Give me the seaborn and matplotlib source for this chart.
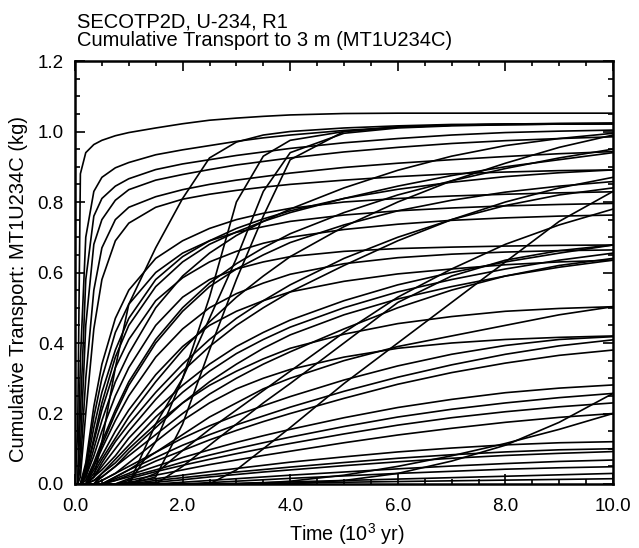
import matplotlib
matplotlib.use("Agg")
import matplotlib.pyplot as plt
from matplotlib.ticker import MultipleLocator, FormatStrFormatter
import seaborn as sns
import pandas as pd

# ---- data ----
time_kyr = [0, .05, .1, .2, .35, .5, .75, 1, 1.5, 2, 2.5, 3, 3.5, 4, 5, 6, 7, 8, 9, 10]

A   = [0, .15, .88, .94, .963, .975, .988, .997, 1.01, 1.022, 1.032, 1.038, 1.043, 1.047, 1.051, 1.052, 1.052, 1.052, 1.052, 1.052]
F1  = [0, 0, .35, .7, .83, .87, .897, .912, .934, .948, .96, .972, .982, .99, 1.003, 1.012, 1.018, 1.021, 1.023, 1.024]
F2  = [0, 0, .2, .58, .76, .81, .845, .866, .892, .908, .92, .932, .942, .952, .968, .98, .99, .997, 1.001, 1.004]
F3  = [0, 0, .1, .45, .68, .75, .805, .835, .862, .878, .892, .905, .915, .925, .942, .955, .966, .974, .98, .985]
F4  = [0, 0, .05, .3, .55, .67, .75, .785, .815, .835, .85, .862, .872, .882, .898, .91, .92, .929, .937, .943]
F5  = [0, 0, .02, .2, .44, .58, .69, .74, .785, .808, .822, .833, .842, .85, .862, .872, .88, .885, .889, .891]

C1  = [0, 0, 0, .06, .22, .34, .47, .55, .64, .69, .725, .75, .768, .782, .8, .81, .817, .822, .826, .829]
C2  = [0, 0, 0, .05, .19, .3, .43, .51, .6, .655, .69, .714, .73, .745, .763, .775, .783, .789, .793, .796]
C3  = [0, 0, 0, .04, .16, .26, .38, .47, .58, .645, .69, .725, .752, .775, .81, .836, .856, .872, .883, .891]
C4  = [0, 0, 0, .03, .12, .21, .33, .41, .52, .585, .63, .66, .683, .7, .722, .737, .748, .755, .76, .763]
C5  = [0, 0, 0, .02, .1, .18, .29, .37, .5, .59, .655, .705, .745, .78, .84, .89, .93, .96, .98, .995]
C6  = [0, 0, 0, .02, .08, .15, .25, .33, .45, .53, .58, .61, .63, .645, .66, .668, .672, .675, .677, .678]
C7  = [0, 0, 0, .01, .06, .12, .21, .29, .41, .5, .57, .625, .67, .71, .77, .82, .86, .895, .925, .95]
C8  = [0, 0, 0, .01, .05, .1, .18, .25, .36, .44, .5, .54, .57, .595, .625, .642, .652, .658, .662, .664]
C9  = [0, 0, 0, 0, .04, .08, .15, .21, .31, .39, .45, .49, .52, .545, .575, .596, .61, .622, .63, .635]
C10 = [0, 0, 0, 0, .03, .07, .13, .19, .29, .38, .46, .53, .59, .645, .73, .8, .86, .91, .955, .99]
C11 = [0, 0, 0, 0, .02, .05, .1, .15, .24, .32, .39, .45, .5, .545, .62, .69, .75, .8, .84, .87]
C12 = [0, 0, 0, 0, .02, .04, .08, .13, .21, .28, .34, .39, .43, .465, .52, .565, .6, .63, .655, .678]
C13 = [0, 0, 0, 0, .01, .03, .06, .1, .17, .23, .28, .32, .355, .385, .425, .455, .475, .49, .498, .503]
C14 = [0, 0, 0, 0, .01, .02, .05, .08, .14, .2, .255, .3, .34, .375, .44, .5, .55, .59, .62, .64]
C15 = [0, 0, 0, .03, .13, .23, .36, .45, .56, .63, .68, .715, .745, .77, .81, .845, .875, .9, .92, .94]
C16 = [0, 0, 0, 0, .05, .11, .2, .28, .4, .49, .56, .61, .65, .685, .735, .775, .805, .828, .845, .858]
C17 = [0, 0, 0, 0, .02, .06, .12, .17, .26, .34, .41, .47, .52, .565, .64, .7, .75, .79, .82, .84]
C18 = [0, 0, 0, 0, 0, .03, .07, .11, .19, .26, .32, .37, .41, .445, .5, .545, .58, .61, .635, .655]

M1  = [0, 0, 0, 0, 0, .02, .05, .09, .16, .23, .29, .34, .385, .423, .48, .525, .56, .59, .615, .635]
M2  = [0, 0, 0, 0, 0, .01, .03, .06, .12, .18, .23, .27, .3, .325, .36, .385, .4, .41, .416, .42]
M3  = [0, 0, 0, 0, 0, 0, .02, .04, .09, .14, .19, .23, .27, .3, .35, .39, .42, .45, .48, .503]

D1  = [0, 0, 0, 0, 0, .01, .03, .05, .09, .13, .165, .195, .222, .248, .295, .335, .368, .393, .41, .418]
D2  = [0, 0, 0, 0, 0, 0, .02, .04, .075, .11, .14, .168, .193, .218, .263, .303, .338, .368, .392, .409]
D3  = [0, 0, 0, 0, 0, 0, .015, .03, .065, .095, .125, .152, .177, .2, .243, .283, .316, .343, .365, .38]
D4  = [0, 0, 0, 0, 0, 0, .01, .025, .05, .075, .097, .118, .137, .155, .188, .217, .24, .259, .272, .281]
D5  = [0, 0, 0, 0, 0, 0, .01, .02, .04, .062, .082, .1, .117, .133, .163, .19, .212, .23, .245, .257]
D6  = [0, 0, 0, 0, 0, 0, 0, .015, .035, .053, .07, .086, .101, .115, .142, .167, .188, .205, .219, .23]
D7  = [0, 0, 0, 0, 0, 0, 0, .01, .025, .04, .055, .068, .081, .093, .117, .139, .158, .175, .189, .2]
D8  = [0, 0, 0, 0, 0, 0, 0, .005, .015, .025, .035, .044, .053, .062, .077, .091, .102, .111, .117, .12]
D9  = [0, 0, 0, 0, 0, 0, 0, 0, .01, .018, .026, .034, .041, .048, .061, .073, .083, .091, .097, .1]
D10 = [0, 0, 0, 0, 0, 0, 0, 0, .005, .012, .02, .027, .034, .04, .052, .063, .073, .081, .087, .092]
D11 = [0, 0, 0, 0, 0, 0, 0, 0, 0, .005, .01, .015, .02, .025, .034, .043, .051, .058, .064, .068]
D12 = [0, 0, 0, 0, 0, 0, 0, 0, 0, 0, .004, .008, .012, .016, .023, .03, .036, .042, .046, .049]
D13 = [0, 0, 0, 0, 0, 0, 0, 0, 0, 0, 0, .002, .004, .006, .01, .014, .018, .022, .026, .03]
D14 = [0, 0, 0, 0, 0, 0, 0, 0, 0, 0, 0, 0, .002, .003, .005, .007, .009, .011, .013, .015]

S1  = [0, 0, 0, 0, .02, .12, .33, .51, .67, .81, .925, .97, .99, 1.0, 1.01, 1.016, 1.02, 1.021, 1.022, 1.023]
S2  = [0, 0, 0, 0, 0, 0, 0, 0, .12, .3, .53, .8, .93, .975, 1.0, 1.012, 1.018, 1.02, 1.021, 1.022]
S3  = [0, 0, 0, 0, 0, 0, 0, 0, .02, .17, .38, .58, .76, .92, 1.0, 1.013, 1.018, 1.02, 1.021, 1.022]
S4  = [0, 0, 0, 0, 0, 0, 0, 0, .17, .3, .47, .64, .83, .94, .995, 1.01, 1.016, 1.019, 1.021, 1.022]

L1  = [0, 0, 0, 0, 0, 0, 0, 0, 0, 0, 0, .04, .1, .16, .285, .4, .515, .63, .745, .83]
L2  = [0, 0, 0, 0, 0, 0, 0, 0, .03, .095, .155, .21, .265, .32, .43, .53, .61, .68, .735, .78]
L3  = [0, 0, 0, 0, 0, 0, 0, 0, 0, .05, .11, .17, .23, .285, .4, .515, .59, .635, .662, .678]

E1  = [0, 0, 0, 0, 0, 0, 0, 0, 0, 0, 0, 0, .003, .008, .025, .05, .08, .115, .155, .2]
E2  = [0, 0, 0, 0, 0, 0, 0, 0, 0, 0, 0, 0, 0, 0, .01, .03, .065, .11, .175, .257]

curves = {
    "A": A, "F1": F1, "F2": F2, "F3": F3, "F4": F4, "F5": F5,
    "C1": C1, "C2": C2, "C3": C3, "C4": C4, "C5": C5, "C6": C6, "C7": C7, "C8": C8,
    "C9": C9, "C10": C10, "C11": C11, "C12": C12, "C13": C13, "C14": C14,
    "C15": C15, "C16": C16, "C17": C17, "C18": C18,
    "M1": M1, "M2": M2, "M3": M3,
    "D1": D1, "D2": D2, "D3": D3, "D4": D4, "D5": D5, "D6": D6, "D7": D7,
    "D8": D8, "D9": D9, "D10": D10, "D11": D11, "D12": D12, "D13": D13, "D14": D14,
    "S1": S1, "S2": S2, "S3": S3, "S4": S4,
    "L1": L1, "L2": L2, "L3": L3, "E1": E1, "E2": E2,
}

x_ticks = [0, 2, 4, 6, 8, 10]
y_ticks = [0.0, 0.2, 0.4, 0.6, 0.8, 1.0, 1.2]
title_lines = ["SECOTP2D, U-234, R1", "Cumulative Transport to 3 m (MT1U234C)"]
x_label = "Time (10$^3$ yr)"
y_label = "Cumulative Transport: MT1U234C (kg)"

rows = []
for name, vals in curves.items():
    for t, v in zip(time_kyr, vals):
        rows.append({"curve": name, "time": t, "value": v})
df = pd.DataFrame(rows)

# ---- plot ----
sns.set_theme(style="ticks")
plt.rcParams["font.family"] = ["Liberation Sans", "DejaVu Sans"]
plt.rcParams["mathtext.fontset"] = "custom"
plt.rcParams["mathtext.rm"] = "Liberation Sans"
plt.rcParams["text.color"] = "black"
plt.rcParams["axes.labelcolor"] = "black"

fig = plt.figure(figsize=(6.39, 5.48), dpi=100)
ax = fig.add_axes([75 / 639, 1 - 484 / 548, 538 / 639, 423 / 548])

sns.lineplot(data=df, x="time", y="value", units="curve", estimator=None,
             color="black", linewidth=1.2, legend=False, ax=ax)

ax.set_xlim(0, 10)
ax.set_ylim(0, 1.2)
ax.set_xticks(x_ticks)
ax.set_yticks(y_ticks)
ax.xaxis.set_major_formatter(FormatStrFormatter("%.1f"))
ax.yaxis.set_major_formatter(FormatStrFormatter("%.1f"))
ax.xaxis.set_minor_locator(MultipleLocator(0.5))
ax.yaxis.set_minor_locator(MultipleLocator(0.05))
ax.tick_params(which="both", direction="in", top=True, right=True,
               width=1.2, color="black", labelsize=13.5, labelcolor="black")
ax.tick_params(which="major", length=7)
ax.tick_params(axis="x", which="major", pad=10)
ax.tick_params(axis="y", which="major", pad=8)
ax.tick_params(which="minor", length=3.5)
for sp in ax.spines.values():
    sp.set_linewidth(1.8)
    sp.set_color("black")

ax.set_xlabel(x_label, fontsize=14.2, color="black")
ax.set_ylabel(y_label, fontsize=14.5, color="black")
ax.xaxis.set_label_coords(0.505, -0.088)
ax.yaxis.set_label_coords(-0.087, 0.46)

fig.text(77 / 639, 1 - 27 / 548, title_lines[0], fontsize=14.5, va="baseline", ha="left", color="black")
fig.text(77 / 639, 1 - 46.5 / 548, title_lines[1], fontsize=14.5, va="baseline", ha="left", color="black")

fig.savefig("out.png", dpi=100)
